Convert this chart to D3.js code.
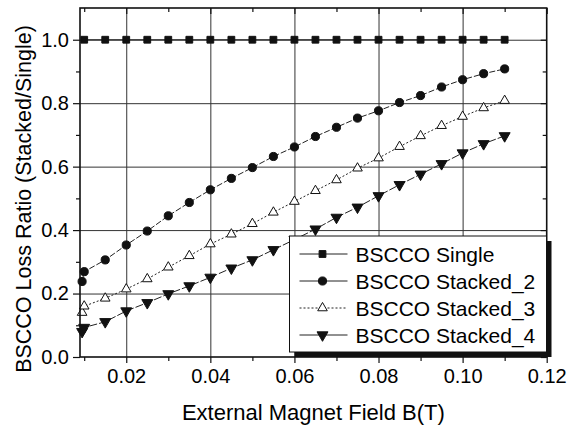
<!DOCTYPE html>
<html>
<head>
<meta charset="utf-8">
<script src="https://cdn.jsdelivr.net/npm/d3@7"></script>
<style>
body{margin:0;background:#fff;}
text{font-family:"Liberation Sans",Arial,sans-serif;fill:#000;}
</style>
</head>
<body>
<div id="chart" style="width:567px;height:428px;"></div>
<script>
// field values (T)
const xValues = [0.0095, 0.01, 0.015, 0.02, 0.025, 0.03, 0.035, 0.04, 0.045, 0.05, 0.055,
                 0.06, 0.065, 0.07, 0.075, 0.08, 0.085, 0.09, 0.095, 0.10, 0.105, 0.11];
const singleValues   = [null, 1.0, 1.0, 1.0, 1.0, 1.0, 1.0, 1.0, 1.0, 1.0, 1.0,
                        1.0, 1.0, 1.0, 1.0, 1.0, 1.0, 1.0, 1.0, 1.0, 1.0, 1.0];
const stacked2Values = [0.238, 0.269, 0.306, 0.353, 0.397, 0.445, 0.487, 0.527, 0.563, 0.597, 0.632,
                        0.662, 0.695, 0.724, 0.753, 0.776, 0.802, 0.824, 0.851, 0.874, 0.893, 0.908];
const stacked3Values = [0.140, 0.160, 0.185, 0.214, 0.246, 0.283, 0.319, 0.356, 0.387, 0.420, 0.456,
                        0.490, 0.524, 0.558, 0.595, 0.627, 0.663, 0.697, 0.729, 0.758, 0.785, 0.808];
const stacked4Values = [0.080, 0.093, 0.111, 0.145, 0.171, 0.199, 0.224, 0.251, 0.280, 0.306, 0.338,
                        0.370, 0.403, 0.440, 0.472, 0.508, 0.543, 0.576, 0.609, 0.643, 0.672, 0.697];
const seriesNames = ["BSCCO Single", "BSCCO Stacked_2", "BSCCO Stacked_3", "BSCCO Stacked_4"];

const xTicks = [0.02, 0.04, 0.06, 0.08, 0.10, 0.12];
const xMinorTicks = [0.01, 0.03, 0.05, 0.07, 0.09, 0.11];
const yTicks = [0.0, 0.2, 0.4, 0.6, 0.8, 1.0];
const yMinorTicks = [0.1, 0.3, 0.5, 0.7, 0.9];

const rootDOM = document.getElementById("chart");
const W = 567, H = 428;
const m = {t:8, l:80, b:71, r:20.3};
const w = W - m.l - m.r;
const h = H - m.t - m.b;

const scaleX = d3.scaleLinear().domain([0.009, 0.12]).range([0, w]);
const scaleY = d3.scaleLinear().domain([0, 1.1]).range([h, 0]);

const series = [
  {name: seriesNames[0], values: singleValues,   symbol: d3.symbolSquare,   size: 46, rot: 0,   fill: "#111", dash: null},
  {name: seriesNames[1], values: stacked2Values, symbol: d3.symbolCircle,   size: 52, rot: 0,   fill: "#111", dash: "6,2"},
  {name: seriesNames[2], values: stacked3Values, symbol: d3.symbolTriangle, size: 40, rot: 0,   fill: "#fff", dash: "2,2"},
  {name: seriesNames[3], values: stacked4Values, symbol: d3.symbolTriangle, size: 52, rot: 180, fill: "#111", dash: "8,2"}
];

const svg = d3.select(rootDOM).append("svg")
  .attr("width", W)
  .attr("height", H);

const plot = svg.append("g")
  .attr("transform", `translate(${m.l},${m.t})`);

// grid
plot.append("g")
  .attr("class", "grid-x")
  .attr("transform", `translate(0,${h})`)
  .call(d3.axisBottom(scaleX).tickValues(xTicks.slice(0, -1)).tickSize(-h).tickFormat(""))
  .call(g => g.select(".domain").remove())
  .selectAll("line").attr("stroke", "#333").attr("stroke-width", 1);

plot.append("g")
  .attr("class", "grid-y")
  .call(d3.axisLeft(scaleY).tickValues(yTicks.slice(1)).tickSize(-w).tickFormat(""))
  .call(g => g.select(".domain").remove())
  .selectAll("line").attr("stroke", "#333").attr("stroke-width", 1);

// lines + markers
const lineGenerator = d3.line()
  .defined(d => d.v != null)
  .x(d => scaleX(d.x))
  .y(d => scaleY(d.v));

series.forEach(s => {
  const pts = xValues.map((x, i) => ({x: x, v: s.values[i]}));
  plot.append("path")
    .datum(pts)
    .attr("d", lineGenerator)
    .attr("fill", "none")
    .attr("stroke", "#222")
    .attr("stroke-width", 1)
    .attr("stroke-dasharray", s.dash);
  plot.append("g").selectAll("path")
    .data(pts.filter(d => d.v != null))
    .join("path")
    .attr("d", d3.symbol().type(s.symbol).size(s.size))
    .attr("transform", d => `translate(${scaleX(d.x)},${scaleY(d.v)}) rotate(${s.rot})`)
    .attr("fill", s.fill)
    .attr("stroke", "#111")
    .attr("stroke-width", 1);
});

// axes
const axisX = d3.axisBottom(scaleX).tickValues(xTicks).tickSize(6).tickPadding(6).tickFormat(d3.format(".2f"));
const axisY = d3.axisLeft(scaleY).tickValues(yTicks).tickSize(7).tickPadding(4).tickFormat(d3.format(".1f"));

plot.append("g").attr("class", "axis axis-x")
  .attr("transform", `translate(0,${h})`)
  .call(axisX);
plot.append("g").attr("class", "axis axis-y")
  .call(axisY);
plot.append("g").attr("class", "axis axis-top")
  .call(d3.axisTop(scaleX).tickValues(xTicks).tickSize(-6).tickFormat(""));
plot.append("g").attr("class", "axis axis-right")
  .attr("transform", `translate(${w},0)`)
  .call(d3.axisRight(scaleY).tickValues(yTicks).tickSize(-6).tickFormat(""));

// minor ticks
plot.append("g").attr("class", "axis minor")
  .attr("transform", `translate(0,${h})`)
  .call(d3.axisBottom(scaleX).tickValues(xMinorTicks).tickSize(4).tickFormat(""));
plot.append("g").attr("class", "axis minor")
  .call(d3.axisLeft(scaleY).tickValues(yMinorTicks).tickSize(4).tickFormat(""));
plot.append("g").attr("class", "axis minor")
  .call(d3.axisTop(scaleX).tickValues(xMinorTicks).tickSize(-4).tickFormat(""));
plot.append("g").attr("class", "axis minor")
  .attr("transform", `translate(${w},0)`)
  .call(d3.axisRight(scaleY).tickValues(yMinorTicks).tickSize(-4).tickFormat(""));

svg.selectAll(".axis .domain").remove();
svg.selectAll(".axis line").attr("stroke", "#111").attr("stroke-width", 1.2);
svg.selectAll(".axis text").attr("font-size", 20).attr("fill", "#000")
  .attr("font-family", '"Liberation Sans", Arial, sans-serif');

// frame
plot.append("rect")
  .attr("width", w)
  .attr("height", h)
  .attr("fill", "none")
  .attr("stroke", "#111")
  .attr("stroke-width", 1.6);

// legend
const lg = {x: 289.5, y: 236, w: 257, h: 116, row: 27};
const legend = svg.append("g").attr("class", "legend");
legend.append("rect")
  .attr("x", lg.x + 5).attr("y", lg.y + 5)
  .attr("width", lg.w).attr("height", lg.h)
  .attr("fill", "#111");
legend.append("rect")
  .attr("x", lg.x).attr("y", lg.y)
  .attr("width", lg.w).attr("height", lg.h)
  .attr("fill", "#fff")
  .attr("stroke", "#111")
  .attr("stroke-width", 1);

const rows = legend.selectAll("g.row")
  .data(series)
  .join("g")
  .attr("class", "row")
  .attr("transform", (d, i) => `translate(${lg.x},${lg.y + 18 + i * lg.row})`);
rows.append("line")
  .attr("x1", 10).attr("x2", 58)
  .attr("stroke", "#222").attr("stroke-width", 1)
  .attr("stroke-dasharray", (d, i) => i === 2 ? "2,2" : null);
rows.append("path")
  .attr("d", d => d3.symbol().type(d.symbol).size(d.size)())
  .attr("transform", d => `translate(33,0) rotate(${d.rot})`)
  .attr("fill", d => d.fill)
  .attr("stroke", "#111")
  .attr("stroke-width", 1);
rows.append("text")
  .attr("x", 66)
  .attr("dy", "0.36em")
  .attr("font-size", 21)
  .text(d => d.name);

// axis titles
svg.append("text")
  .attr("x", m.l + w / 2)
  .attr("y", 420)
  .attr("text-anchor", "middle")
  .attr("font-size", 22)
  .text("External Magnet Field B(T)");

svg.append("text")
  .attr("transform", "translate(31,199) rotate(-90)")
  .attr("text-anchor", "middle")
  .attr("font-size", 21.5)
  .text("BSCCO Loss Ratio (Stacked/Single)");
</script>
</body>
</html>
